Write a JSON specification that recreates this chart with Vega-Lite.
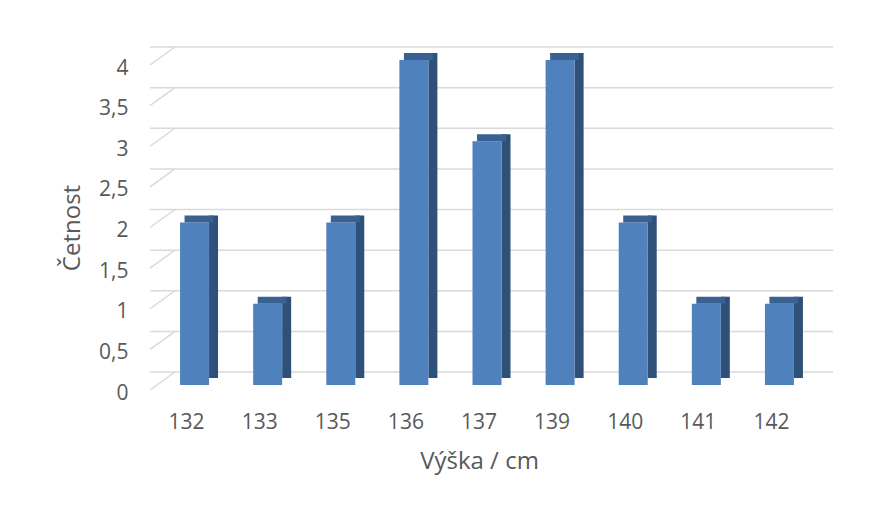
{
  "$schema": "https://vega.github.io/schema/vega-lite/v6.json",
  "autosize": {"type": "none"},
  "width": 658,
  "height": 325,
  "padding": {"left": 150, "top": 65, "right": 65, "bottom": 118},
  "background": "white",
  "config": {
    "view": {"stroke": null},
    "font": "Open Sans",
    "axis": {"labelColor": "#595959", "titleColor": "#595959", "labelFont": "Open Sans", "titleFont": "Open Sans", "titleFontWeight": "normal"},
    "axisX": {
      "title": "Výška / cm", "labelAngle": 0, "domain": false, "ticks": false, "grid": false,
      "labelFontSize": 21, "labelPadding": 21, "titleFontSize": 24, "titlePadding": 17
    },
    "axisY": {
      "title": "Četnost", "values": [0, 0.5, 1, 1.5, 2, 2.5, 3, 3.5, 4],
      "format": "~g",
      "labelExpr": "replace(datum.label, '.', ',')",
      "grid": false, "domain": false, "ticks": false, "labelOffset": 3,
      "labelFontSize": 21, "labelPadding": 22, "titleFontSize": 24, "titlePadding": 14
    }
  },
  "datasets": {
    "bars": [
      {"h": "132", "n": 2},
      {"h": "133", "n": 1},
      {"h": "135", "n": 2},
      {"h": "136", "n": 4},
      {"h": "137", "n": 3},
      {"h": "139", "n": 4},
      {"h": "140", "n": 2},
      {"h": "141", "n": 1},
      {"h": "142", "n": 1}
    ],
    "grid": [
      {"n": 0}, {"n": 0.5}, {"n": 1}, {"n": 1.5}, {"n": 2}, {"n": 2.5}, {"n": 3}, {"n": 3.5}, {"n": 4}
    ]
  },
  "encoding": {
    "y": {"field": "n", "type": "quantitative", "scale": {"domain": [0, 4], "nice": false}, "title": "Četnost"}
  },
  "layer": [
    {
      "data": {"name": "grid"},
      "mark": {"type": "rule", "color": "#D9D9D9", "strokeWidth": 1.5, "xOffset": 25, "yOffset": -18},
      "encoding": {}
    },
    {
      "data": {"name": "grid"},
      "mark": {"type": "rule", "color": "#D9D9D9", "strokeWidth": 1.5, "y2Offset": -18},
      "encoding": {
        "x": {"value": 0},
        "x2": {"value": 25},
        "y2": {"field": "n"}
      }
    },
    {
      "data": {"name": "bars"},
      "mark": {"type": "bar", "color": "#2E5079", "width": 9, "xOffset": 27, "yOffset": -12, "y2Offset": -8.5},
      "encoding": {
        "x": {"field": "h", "type": "nominal", "title": "Výška / cm", "scale": {"paddingInner": 0.6, "paddingOuter": 0.3}}
      }
    },
    {
      "data": {"name": "bars"},
      "mark": {"type": "bar", "color": "#4F81BD", "width": 29, "xOffset": 8, "yOffset": -5, "y2Offset": -5},
      "encoding": {
        "x": {"field": "h", "type": "nominal", "title": "Výška / cm"}
      }
    },
    {
      "data": {"name": "bars"},
      "mark": {"type": "bar", "color": "#3A6193", "width": 29, "xOffset": 12.5, "yOffset": -12, "y2Offset": -5},
      "encoding": {
        "x": {"field": "h", "type": "nominal", "title": "Výška / cm"},
        "y2": {"field": "n"}
      }
    }
  ]
}
